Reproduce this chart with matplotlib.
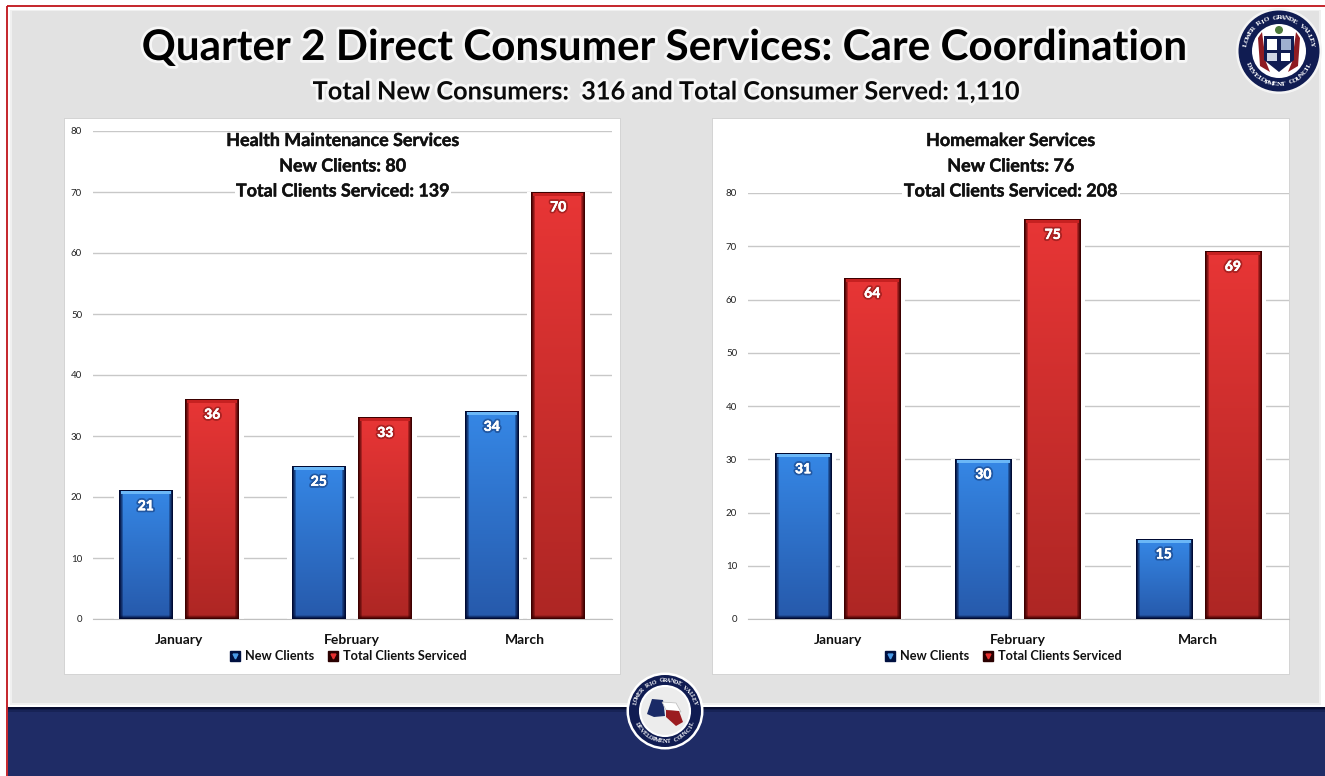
import numpy as np
import matplotlib
matplotlib.use("Agg")
import matplotlib.pyplot as plt
import matplotlib.patheffects as pe
from matplotlib.lines import Line2D
from matplotlib.legend_handler import HandlerTuple
from matplotlib.patches import Rectangle, Circle, Polygon

W, H = 1325, 776
months = ["January", "February", "March"]
series_names = ["New Clients", "Total Clients Serviced"]

health_new = [21, 25, 34]
health_total = [36, 33, 70]
homemaker_new = [31, 30, 15]
homemaker_total = [64, 75, 69]

title = "Quarter 2 Direct Consumer Services: Care Coordination"
subtitle = "Total New Consumers:  316 and Total Consumer Served: 1,110"
health_head = ["Health Maintenance Services", "New Clients: 80", "Total Clients Serviced: 139"]
home_head = ["Homemaker Services", "New Clients: 76", "Total Clients Serviced: 208"]

plt.rcParams["font.family"] = ["Lato", "DejaVu Sans"]

BLUE_TOP, BLUE_BOT = (0.21, 0.53, 0.90), (0.15, 0.35, 0.67)
RED_TOP, RED_BOT = (0.91, 0.21, 0.21), (0.68, 0.15, 0.14)
BLUE_EDGE, RED_EDGE = (0.0, 0.04, 0.20), (0.24, 0.0, 0.0)
BLUE_LIGHT, RED_LIGHT = (0.42, 0.72, 0.97), (0.78, 0.13, 0.13)


def px_axes(x0, y0, x1, y1):
    return fig.add_axes([x0 / W, 1 - y1 / H, (x1 - x0) / W, (y1 - y0) / H])


def bevel(top, bot, edge, light, w, h):
    # vertical gradient with dark sides and a lit top strip, one cell per pixel
    t = np.linspace(0, 1, h)[:, None, None]
    img = (1 - t) * np.array(top)[None, None, :] + t * np.array(bot)[None, None, :]
    img = np.repeat(img, w, axis=1)
    xd = np.minimum(np.arange(w), np.arange(w)[::-1])
    side = np.clip(1 - xd / 4.0, 0, 1)[None, :, None] ** 0.8
    img = img * (1 - side) + np.array(edge)[None, None, :] * side
    yd = np.arange(h)[::-1]
    low = np.clip(1 - yd / 3.5, 0, 1)[:, None, None]
    img = img * (1 - low) + np.array(edge)[None, None, :] * low
    img[1:4, 2:-2] = light
    img[:1] = edge
    return img


def draw_chart(box, ymax, new, total, head, head_x, legend_x):
    ax = px_axes(*box)
    x = np.arange(len(months))
    off, bw = 0.192, 0.312
    bar_px = bw * (box[2] - box[0]) / 3
    unit_px = (box[3] - box[1]) / ymax
    ax.set_facecolor("none")
    ax.grid(axis="y", color="#c8c8c8", lw=1.0, zorder=1)
    ax.set_axisbelow(True)
    for s in ax.spines.values():
        s.set_visible(False)
    ax.spines["bottom"].set_visible(True)
    ax.spines["bottom"].set_color("#c0c0c0")
    ax.tick_params(length=0)
    ax.set_yticks(np.arange(0, ymax + 1, 10))
    ax.tick_params(axis="y", labelsize=7, pad=7.5, labelcolor="#222222")
    ax.set_xticks(x)
    ax.set_xticklabels(months, fontsize=10, fontweight="bold", color="#111111")
    ax.tick_params(axis="x", pad=10.5)

    for vals, sign, cols in [(new, -1, (BLUE_TOP, BLUE_BOT, BLUE_EDGE, BLUE_LIGHT)),
                             (total, 1, (RED_TOP, RED_BOT, RED_EDGE, RED_LIGHT))]:
        xs = x + sign * off
        # white halo cuts the gridlines next to each bar
        ax.bar(xs, vals, bw + 0.05, color="white", zorder=2)
        bars = ax.bar(xs, vals, bw, color="none", zorder=3)
        for b, v in zip(bars, vals):
            img = bevel(*cols, int(round(bar_px)), int(round(v * unit_px)))
            ax.imshow(img, extent=[b.get_x(), b.get_x() + bw, 0, v],
                      aspect="auto", zorder=3, interpolation="nearest")
            ax.annotate(str(v), (b.get_x() + bw / 2, v), xytext=(0, -11),
                        textcoords="offset points", ha="center", va="center",
                        color="white", fontsize=10, fontweight="bold", zorder=5,
                        path_effects=[pe.withStroke(linewidth=3, foreground=cols[2], alpha=0.35),
                                      pe.withStroke(linewidth=0.3, foreground="white")])
    ax.set_xlim(-0.5, 2.5)
    ax.set_ylim(0, ymax)

    h1 = (Line2D([], [], ls="none", marker="s", ms=7.5, color="#001040"),
          Line2D([], [], ls="none", marker="v", ms=3.5, color="#4a9be8"))
    h2 = (Line2D([], [], ls="none", marker="s", ms=7.5, color="#2a0000"),
          Line2D([], [], ls="none", marker="v", ms=3.5, color="#e83030"))
    leg = ax.legend([h1, h2], series_names, handler_map={tuple: HandlerTuple(ndivide=1, pad=0)},
                    loc="center", bbox_to_anchor=(legend_x / W, 1 - 656 / H),
                    bbox_transform=fig.transFigure, ncol=2, frameon=False,
                    handlelength=0.8, handletextpad=0.35, columnspacing=1.1,
                    prop={"size": 9.2, "weight": "bold"})
    for t in leg.get_texts():
        t.set_color("#111111")

    for i, (ypx, s) in enumerate(zip([140.5, 166, 191], head)):
        box_style = dict(fc="white", ec="none", pad=1) if i == 2 else None
        over.text(head_x, ypx, s, ha="center", va="center", fontsize=12.9, fontweight="bold",
                  color="#111111", bbox=box_style,
                  path_effects=[pe.withStroke(linewidth=0.3, foreground="#111111")])
    return ax


def ring_text(c, r, s, a0, a1, size, bottom=False):
    cx, cy = c
    for ch, a in zip(s, np.linspace(a0, a1, len(s))):
        rad = np.radians(a)
        rot = a - 90 if not bottom else a + 90
        over.text(cx + r * np.cos(rad), cy - r * np.sin(rad), ch, ha="center", va="center",
                  fontsize=size, fontweight="bold", color="white", rotation=rot,
                  family=["Liberation Serif"])


fig = plt.figure(figsize=(W / 100, H / 100), dpi=100, facecolor="white")

# page furniture drawn in pixel coordinates
bg = fig.add_axes([0, 0, 1, 1], zorder=0)
bg.set_xlim(0, W)
bg.set_ylim(H, 0)
bg.axis("off")
bg.add_patch(Rectangle((10, 10), 1311, 695, fc="#f0f0f0", ec="none"))
bg.add_patch(Rectangle((12, 11), 1307, 692, fc="#e2e2e2", ec="none"))
bg.add_patch(Rectangle((8, 708), W, 68, fc="#1f2c66", ec="none"))
for i, col in enumerate(["#070d30", "#0f1a48", "#172356"]):
    bg.add_patch(Rectangle((8, 707 + i * 1.5), W, 1.5, fc=col, ec="none"))
bg.add_patch(Rectangle((6.5, 5.5), W, H, fc="none", ec="#c0141a", lw=1.3))
for x0, x1 in [(65, 620), (713, 1289)]:
    bg.add_patch(Rectangle((x0 - 1, 118), x1 - x0 + 2, 557, fc="#d4d4d4", ec="none"))
    bg.add_patch(Rectangle((x0, 119), x1 - x0, 555, fc="white", ec="none"))

halo = [pe.withStroke(linewidth=4, foreground="#f7f7f7")]
bg.text(665, 48, title, ha="center", va="center", fontsize=30.4, fontweight="bold",
        color="black", path_effects=halo)
bg.text(665, 92, subtitle, ha="center", va="center", fontsize=18.2, fontweight="bold",
        color="#0a0a0a", path_effects=halo)

over = fig.add_axes([0, 0, 1, 1], zorder=10)
over.set_xlim(0, W)
over.set_ylim(H, 0)
over.axis("off")

draw_chart((92.5, 131, 611.5, 619), 80, health_new, health_total, health_head, 343, 348.5)
draw_chart((747.5, 193, 1288.5, 619), 80, homemaker_new, homemaker_total, home_head, 1011, 1003)

# logos
c1 = (1279, 51)
over.add_patch(Circle(c1, 43, fc="#f4f4f4", ec="none"))
over.add_patch(Circle(c1, 40.5, fc="#101c52", ec="none"))
over.add_patch(Circle(c1, 27, fc="white", ec="none"))
over.add_patch(Polygon([(1296, 32), (1300, 38), (1298, 66), (1288, 72), (1292, 62)], fc="#8e1b22", ec="none"))
over.add_patch(Polygon([(1262, 32), (1258, 38), (1260, 66), (1270, 72), (1266, 62)], fc="#8e1b22", ec="none"))
over.add_patch(Polygon([(1264, 36), (1294, 36), (1294, 60), (1279, 72), (1264, 60)], fc="#101c52", ec="none"))
over.add_patch(Rectangle((1267, 39), 10, 11, fc="white", ec="none"))
over.add_patch(Rectangle((1281, 39), 10, 11, fc="#9fb0d0", ec="none"))
over.add_patch(Rectangle((1267, 53), 10, 8, fc="#cfd6e6", ec="none"))
over.add_patch(Rectangle((1281, 53), 9, 8, fc="white", ec="none"))
over.add_patch(Circle((1279, 30), 4, fc="#4c7a3a", ec="none"))
ring_text(c1, 33.5, "LOWER RIO GRANDE VALLEY", 168, 12, 5.2)
ring_text(c1, 33.5, "DEVELOPMENT COUNCIL", 205, 335, 5.2, bottom=True)

c2 = (665, 711)
over.add_patch(Circle(c2, 38.5, fc="white", ec="none"))
over.add_patch(Circle(c2, 36, fc="#101c52", ec="none"))
over.add_patch(Circle(c2, 25, fc="#ececec", ec="white", lw=1.5))
over.add_patch(Polygon([(647, 714), (652, 699), (663, 700), (665, 716), (654, 717)], fc="#1a2a66", ec="none"))
over.add_patch(Polygon([(662, 702), (676, 703), (681, 712), (666, 710)], fc="white", ec="#bbbbbb", lw=0.5))
over.add_patch(Polygon([(666, 710), (679, 711), (683, 722), (676, 726), (666, 717)], fc="#9b1c20", ec="none"))
ring_text(c2, 30.5, "LOWER RIO GRANDE VALLEY", 165, 15, 4.4)
ring_text(c2, 30.5, "DEVELOPMENT COUNCIL", 205, 335, 4.4, bottom=True)

fig.savefig("out.png", dpi=100, facecolor="white")
